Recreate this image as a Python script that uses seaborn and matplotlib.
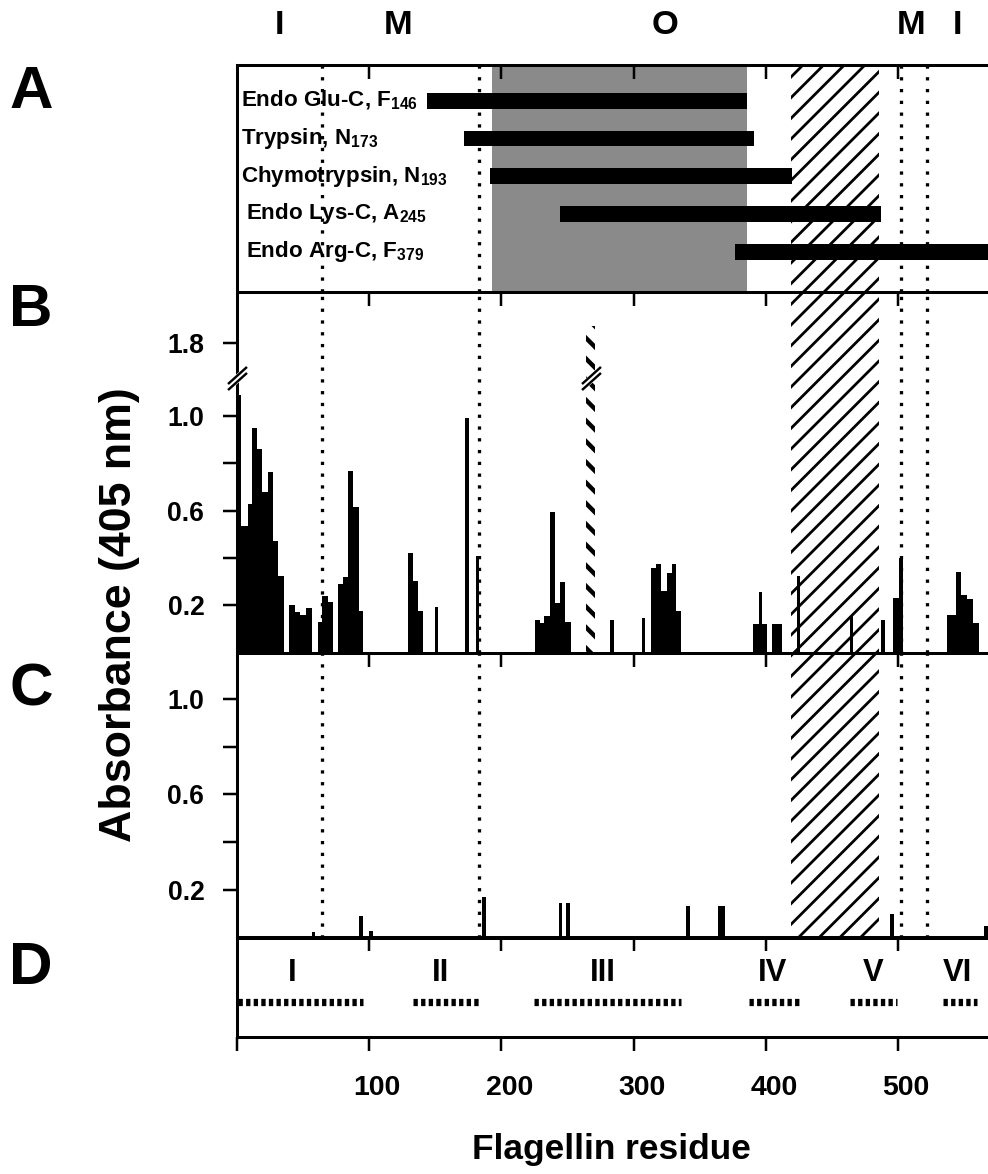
import numpy as np
import pandas as pd
import seaborn as sns
import matplotlib
matplotlib.use('Agg')
import matplotlib.pyplot as plt
import matplotlib.transforms as mtransforms

# ---------------------------------------------------------------
# data (x = flagellin residue)
# ---------------------------------------------------------------
zone_labels = ['I', 'M', 'O', 'M', 'I']
zone_x = [32, 122, 324, 510, 545]

enzymes = ['Endo Glu-C, F$_{146}$', 'Trypsin, N$_{173}$', 'Chymotrypsin, N$_{193}$',
           'Endo Lys-C, A$_{245}$', 'Endo Arg-C, F$_{379}$']
frag_start = [144, 172, 191, 244, 377]
frag_end = [386, 391, 420, 487, 580]

boundaries = [64, 183, 502, 522]     # dotted lines
shaded_region = (193, 386)            # stippled band, panel A
hatched_region = (419, 486)           # hatched band, panels A-C

# panel B: absorbance per peptide
b_start = [0, 3, 8, 11, 15, 19, 23.5, 27, 31,
           39.5, 44, 48, 52.5, 61, 64, 68.5,
           76.5, 80, 84, 88, 92,
           129.5, 133, 137, 149.5, 172.5, 180.5,
           225.5, 229, 232.5, 236.5, 240.5, 244.5, 248,
           282, 306, 313, 317, 321, 325, 329, 332,
           390, 394.5, 397, 405, 423.5, 463.5, 487.5, 496, 501,
           537, 544, 548, 552, 556.5]
b_end = [3, 8, 11, 15, 19, 23.5, 27, 31, 35.5,
         44, 48, 52.5, 56.5, 64, 68.5, 72.5,
         80, 84, 88, 92, 95.5,
         133, 137, 141, 152, 175.5, 183,
         229, 232.5, 236.5, 240.5, 244.5, 248, 252.5,
         285, 309, 317, 321, 325, 329, 332, 336,
         394.5, 397, 401, 412.5, 426, 466, 490.5, 501, 503.5,
         544, 548, 552, 556.5, 561]
b_value = [1.09, 0.535, 0.63, 0.95, 0.86, 0.68, 0.765, 0.47, 0.325,
           0.20, 0.17, 0.16, 0.19, 0.13, 0.24, 0.215,
           0.29, 0.32, 0.77, 0.615, 0.175,
           0.42, 0.305, 0.175, 0.195, 0.99, 0.41,
           0.14, 0.125, 0.155, 0.595, 0.21, 0.30, 0.13,
           0.14, 0.145, 0.36, 0.375, 0.26, 0.335, 0.375, 0.175,
           0.12, 0.255, 0.12, 0.12, 0.325, 0.155, 0.14, 0.23, 0.40,
           0.16, 0.34, 0.245, 0.225, 0.125]
# off-scale peptide (drawn hatched, axis broken)
big_start, big_end, big_value = 264, 271, 2.1

# panel C
c_start = [56.5, 92, 100, 185.5, 243.5, 249, 340, 364, 494, 565]
c_end = [59, 95, 103, 188.5, 246, 252, 343, 369, 497, 569]
c_value = [0.025, 0.092, 0.027, 0.17, 0.145, 0.145, 0.13, 0.13, 0.10, 0.05]

# panel D: domains
domain_labels = ['I', 'II', 'III', 'IV', 'V', 'VI']
domain_start = [1, 133, 225, 387, 464, 534]
domain_end = [95, 183, 336, 426, 499, 560]
domain_label_x = [42, 154, 277, 405, 481, 545]

# ---------------------------------------------------------------
W, H, DPI = 988, 1174, 124
sns.set_theme(style='ticks')
FONT = ['Liberation Sans Narrow', 'Liberation Sans', 'DejaVu Sans']
plt.rcParams['font.family'] = FONT
plt.rcParams['font.weight'] = 'bold'
for k in ['text.color', 'axes.labelcolor', 'xtick.color', 'ytick.color',
          'xtick.labelcolor', 'ytick.labelcolor', 'axes.edgecolor']:
    plt.rcParams[k] = 'black'
plt.rcParams['mathtext.fontset'] = 'custom'
plt.rcParams['mathtext.rm'] = 'Liberation Sans:bold'
plt.rcParams['mathtext.it'] = 'Liberation Sans:bold'
plt.rcParams['mathtext.bf'] = 'Liberation Sans:bold'
plt.rcParams['hatch.linewidth'] = 1.6
plt.rcParams['hatch.color'] = 'black'

fig = plt.figure(figsize=(W / DPI, H / DPI), dpi=DPI)
X0 = 237
XMAX = (W - X0) / 1.322


def px_axes(top, bottom):
    return fig.add_axes([X0 / W, 1 - bottom / H, 1 - X0 / W, (bottom - top) / H])


axA = px_axes(65, 292)
axB = px_axes(292, 652.7)
axC = px_axes(652.7, 937.5)
axD = px_axes(937.5, 1037)

for ax in (axA, axB, axC, axD):
    ax.set_xlim(0, XMAX)
    ax.set_facecolor('white')
    for s in ax.spines.values():
        s.set_linewidth(1.75)
        s.set_color('black')
    ax.spines['right'].set_visible(False)
    ax.spines['bottom'].set_visible(ax is axD)
    ax.grid(False)

for ax in (axA, axB, axC):
    ax.set_xticks(range(100, 600, 100))
    ax.tick_params(axis='x', top=True, bottom=False, labeltop=False, labelbottom=False,
                   direction='in', length=8, width=1.45, color='black')

# ---- panel A
axA.set_ylim(5.07, -0.95)
axA.set_yticks([])
axA.axvspan(*shaded_region, color='#8a8a8a', lw=0, zorder=0)
axA.barh(range(len(enzymes)), np.array(frag_end) - np.array(frag_start), left=frag_start,
         height=0.42, color='black', lw=0, zorder=3)
label_x = [3, 3, 3, 6.5, 6.5]
for i, (lab, lx) in enumerate(zip(enzymes, label_x)):
    axA.text(lx, i, lab, ha='left', va='center', fontsize=13, zorder=4)
tr_top = mtransforms.blended_transform_factory(axA.transData, axA.transAxes)
for lab, zx in zip(zone_labels, zone_x):
    axA.text(zx, 1 + 40 / 227, lab, transform=tr_top, ha='center', va='center',
             fontsize=20, clip_on=False)

# ---- panel B (broken y axis)
BRK, K = 1.16, 0.2336


def fwd(y):
    y = np.asarray(y, dtype=float)
    return np.where(y <= BRK, y, BRK + (y - BRK) * K)


def inv(s):
    s = np.asarray(s, dtype=float)
    return np.where(s <= BRK, s, BRK + (s - BRK) / K)


axB.set_yscale('function', functions=(fwd, inv))
axB.set_ylim(0, 2.72)
axB.bar(b_start, b_value, width=np.array(b_end) - np.array(b_start), align='edge',
        color='black', lw=0, zorder=3)
with plt.rc_context({'hatch.linewidth': 2.6}):
    big = axB.bar(big_start, big_value, width=big_end - big_start, align='edge',
                  facecolor='none', edgecolor='black', hatch='\\\\', lw=0, zorder=3)
axB.set_yticks([0.2, 0.4, 0.6, 0.8, 1.0, 1.8])
axB.set_yticklabels(['0.2', '', '0.6', '', '1.0', '1.8'])

# ---- panel C
axC.set_ylim(0, 1.193)
axC.bar(c_start, c_value, width=np.array(c_end) - np.array(c_start), align='edge',
        color='black', lw=0, zorder=3)
axC.set_yticks([0.2, 0.4, 0.6, 0.8, 1.0])
axC.set_yticklabels(['0.2', '', '0.6', '', '1.0'])

for ax in (axB, axC):
    ax.tick_params(axis='y', direction='out', length=8, width=1.45, pad=11,
                   labelsize=15.4, color='black')

for ax in (axA, axB, axC):
    ax.axvspan(*hatched_region, facecolor='none', edgecolor='black', hatch='//', lw=0,
               zorder=1)
    for xb in boundaries:
        ax.axvline(xb, color='black', lw=1.9, linestyle=(0, (1, 2.6)), zorder=2)


# axis break marks
def break_mark(ax, x, y, trans):
    seg = [(-1, -0.9), (1, 0.9)]
    ax.plot([x], [y], marker=seg, markersize=11, mew=4.5, color='white',
            transform=trans, clip_on=False, zorder=6)
    for dy in (-1.6, 1.6):
        t = mtransforms.offset_copy(trans, fig=fig, x=0, y=dy, units='points')
        ax.plot([x], [y], marker=seg, markersize=11, mew=1.4, color='black',
                transform=t, clip_on=False, zorder=7)


break_mark(axB, 0, BRK, mtransforms.blended_transform_factory(axB.transAxes, axB.transData))
break_mark(axB, (big_start + big_end) / 2, BRK, axB.transData)

# ---- panel D
axD.set_ylim(0, 1)
axD.set_yticks([])
axD.set_xticks(range(0, 600, 100))
axD.set_xticklabels([''] + [str(v) for v in range(100, 600, 100)])
axD.tick_params(axis='x', top=False, bottom=True, direction='out', length=8, width=1.45,
                pad=14, labelsize=16.5, color='black')
shift = mtransforms.ScaledTranslation(8 / DPI, 0, fig.dpi_scale_trans)
for lbl in axD.get_xticklabels():
    lbl.set_transform(lbl.get_transform() + shift)
sec = axD.secondary_xaxis('top')
sec.set_xticks(range(100, 600, 100))
sec.tick_params(axis='x', direction='in', length=8, width=1.45, labeltop=False, color='black')
sec.spines['top'].set_linewidth(1.75)
for lab, s, e, lx in zip(domain_labels, domain_start, domain_end, domain_label_x):
    axD.plot([s, e], [0.352, 0.352], color='black', lw=4.2, linestyle=(0, (0.6, 0.45)),
             dash_capstyle='butt')
    axD.text(lx, 0.643, lab, ha='center', va='center', fontsize=18)

# ---- figure texts
for letter, yy in zip(['A', 'B', 'C', 'D'], [93, 310, 690, 968]):
    fig.text(31 / W, 1 - yy / H, letter, ha='center', va='center', fontsize=35,
             fontweight='heavy')
fig.text(120 / W, 1 - 615 / H, 'Absorbance (405 nm)', rotation=90, ha='center',
         va='center', fontsize=26)
fig.text(611 / W, 1 - 1150 / H, 'Flagellin residue', ha='center', va='center', fontsize=20.5)

fig.savefig('out.png', dpi=DPI, facecolor='white')
